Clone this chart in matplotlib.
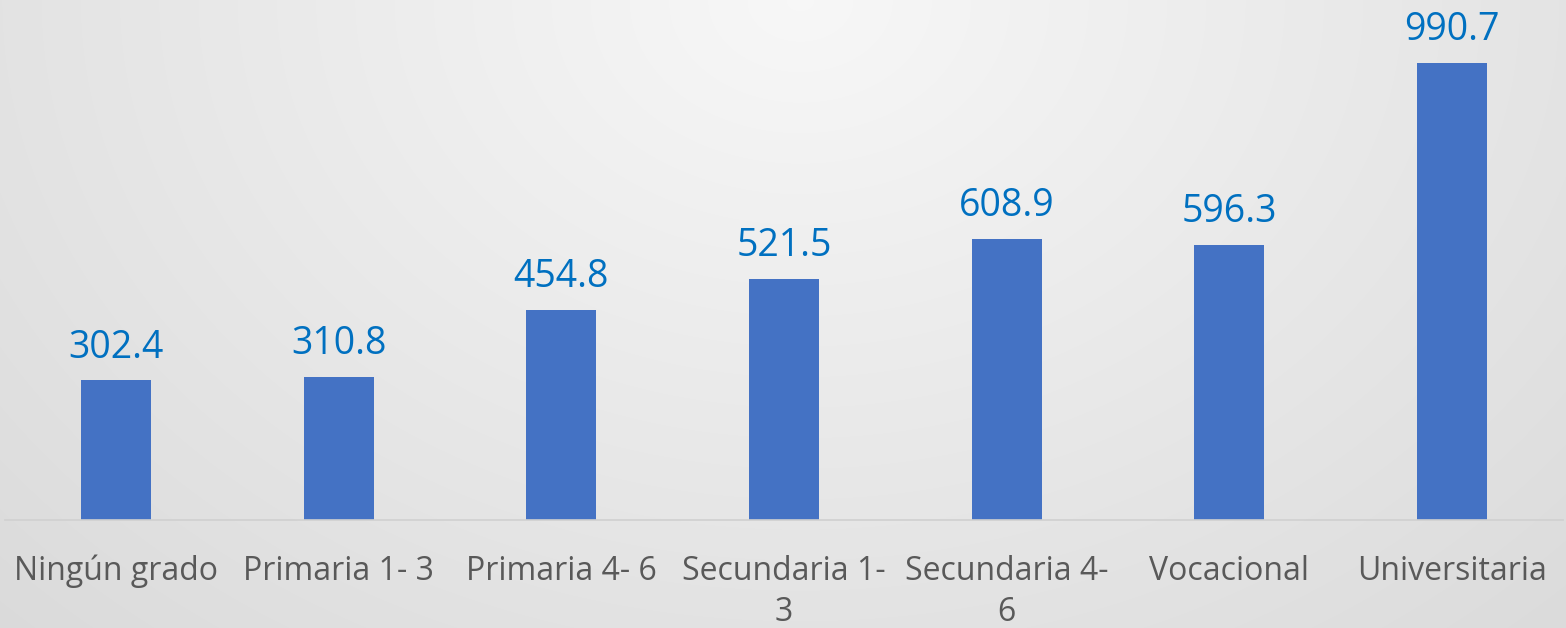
import numpy as np
import matplotlib.pyplot as plt

categories = ["Ningún grado", "Primaria 1- 3", "Primaria 4- 6", "Secundaria 1-\n3",
              "Secundaria 4-\n6", "Vocacional", "Universitaria"]
values = [302.4, 310.8, 454.8, 521.5, 608.9, 596.3, 990.7]

plt.rcParams['font.family'] = ['Open Sans', 'DejaVu Sans']

W, H = 1566, 628
fig = plt.figure(figsize=(W / 100, H / 100), dpi=100)

# soft radial background, lightest near top centre
bg = fig.add_axes([0, 0, 1, 1], zorder=0)
yy, xx = np.mgrid[0:H, 0:W]
r = np.sqrt(((xx - 800) / 900.0) ** 2 + (yy / 700.0) ** 2)
shade = np.clip(0.97 - 0.09 * r, 0, 1)
bg.imshow(np.dstack([shade] * 3), aspect='auto', extent=[0, 1, 0, 1], interpolation='bilinear')
bg.axis('off')

ax = fig.add_axes([5 / W, 1 - 520 / H, 1558 / W, 520 / H], zorder=1)
ax.patch.set_alpha(0)
x = np.arange(len(categories))
bars = ax.bar(x, values, width=0.315, color='#4472C4')
for xi, v in zip(x, values):
    ax.annotate(f"{v:.1f}", (xi, v), xytext=(0, 10), textcoords='offset points',
                ha='center', va='bottom', fontsize=27, color='#0070C0')

ax.set_xlim(-0.5, len(categories) - 0.5)
ax.set_ylim(0, 1127)
ax.set_yticks([])
ax.set_xticks(x)
ax.set_xticklabels(categories, fontsize=23, color='#595959', linespacing=1.33)
ax.tick_params(axis='x', length=0, pad=25)
for s in ['top', 'left', 'right']:
    ax.spines[s].set_visible(False)
ax.spines['bottom'].set_color('#d0d0d0')
ax.spines['bottom'].set_linewidth(1.2)

fig.savefig('out.png', dpi=100)
